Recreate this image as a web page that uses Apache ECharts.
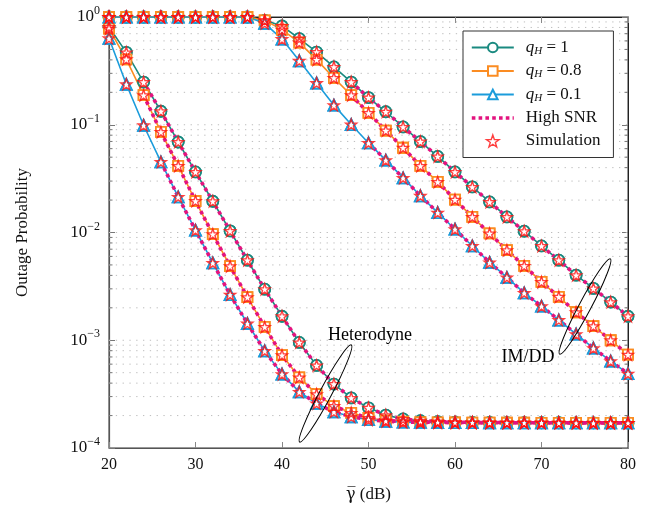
<!DOCTYPE html>
<html><head><meta charset="utf-8">
<script src="https://cdn.jsdelivr.net/npm/echarts@6/dist/echarts.min.js"></script>
<style>html,body{margin:0;padding:0;background:#fff}#c{width:649px;height:510px}</style>
</head><body><div id="c"></div>
<script>
// ---------------- data ----------------
const snrDb = [20,22,24,26,28,30,32,34,36,38,40,42,44,46,48,50,52,54,56,58,60,62,64,66,68,70,72,74,76,78,80];

// Heterodyne
const hetQ1  = [0.808,0.470,0.249,0.1334,0.0692,0.0365,0.0195,0.01035,0.00553,0.00298,0.00167,9.54e-4,5.84e-4,3.92e-4,2.92e-4,2.36e-4,2.02e-4,1.86e-4,1.79e-4,1.76e-4,1.74e-4,1.73e-4,1.725e-4,1.72e-4,1.718e-4,1.716e-4,1.715e-4,1.714e-4,1.713e-4,1.712e-4,1.71e-4];
const hetQ08 = [0.78,0.405,0.188,0.0858,0.0415,0.0196,0.00964,0.00487,0.00251,0.00133,7.28e-4,4.52e-4,3.16e-4,2.45e-4,2.12e-4,1.90e-4,1.80e-4,1.76e-4,1.74e-4,1.73e-4,1.725e-4,1.72e-4,1.718e-4,1.716e-4,1.715e-4,1.714e-4,1.713e-4,1.712e-4,1.711e-4,1.71e-4,1.71e-4];
const hetQ01 = [0.634,0.2375,0.0989,0.0452,0.0214,0.0105,0.00522,0.00265,0.00143,7.97e-4,4.85e-4,3.32e-4,2.59e-4,2.17e-4,1.95e-4,1.83e-4,1.77e-4,1.74e-4,1.73e-4,1.725e-4,1.72e-4,1.718e-4,1.716e-4,1.715e-4,1.714e-4,1.713e-4,1.712e-4,1.711e-4,1.71e-4,1.71e-4,1.71e-4];

// IM/DD
const imQ1  = [1,1,1,1,1,1,1,1,1,0.932,0.825,0.631,0.473,0.344,0.249,0.1788,0.132,0.0954,0.0698,0.0508,0.0365,0.0265,0.0192,0.01395,0.01028,0.0075,0.00553,0.00402,0.00303,0.00226,0.00167];
const imQ08 = [1,1,1,1,1,1,1,1,1,0.93,0.764,0.579,0.402,0.272,0.188,0.1287,0.0883,0.0612,0.0415,0.0295,0.0202,0.01395,0.0098,0.00685,0.0049,0.00348,0.00253,0.00182,0.00135,0.001,7.35e-4];
const imQ01 = [1,1,1,1,1,1,1,1,1,0.874,0.624,0.392,0.244,0.152,0.1004,0.0678,0.0469,0.0321,0.0219,0.0153,0.01073,0.0075,0.00527,0.00383,0.00275,0.00207,0.00154,0.00114,8.45e-4,6.4e-4,4.9e-4];

// index in snrDb where each High-SNR asymptote curve begins
const highSnrStartHet = {q1: 2, q08: 2, q01: 3};
const highSnrStartIm  = {q1: 14, q08: 14, q01: 15};

const minorVals = [2e-4,3e-4,4e-4,5e-4,6e-4,7e-4,8e-4,9e-4,2e-3,3e-3,4e-3,5e-3,6e-3,7e-3,8e-3,9e-3,2e-2,3e-2,4e-2,5e-2,6e-2,7e-2,8e-2,9e-2,0.2,0.3,0.4,0.5,0.6,0.7,0.8,0.9];
const majorGridVals = [1e-3, 1e-2, 1e-1];

// ---------------- styles ----------------
const TEAL = '#1a8a80', ORANGE = '#fb8c22', BLUE = '#1b9cdb', MAG = '#e3137f', RED = '#ff1010';
const SERIF = '"Liberation Serif", "DejaVu Serif", serif';
const STAR = 'path://M0,-10L2.35,-3.24L9.51,-3.09L3.8,1.24L5.88,8.09L0,4L-5.88,8.09L-3.8,1.24L-9.51,-3.09L-2.35,-3.24Z';
const DOTS = [3.6, 3.2];

const pts = arr => snrDb.map((x, i) => [x, arr[i]]);
const ptsFrom = (arr, s) => snrDb.slice(s).map((x, i) => [x, arr[s + i]]);

const curveDefs = [
  {name: 'q1',  color: TEAL,   symbol: 'circle',   size: 11, het: hetQ1,  im: imQ1,  key: 'q1'},
  {name: 'q08', color: ORANGE, symbol: 'rect',     size: 10, het: hetQ08, im: imQ08, key: 'q08'},
  {name: 'q01', color: BLUE,   symbol: 'triangle', size: 11, het: hetQ01, im: imQ01, key: 'q01'}
];

const series = [];
const gridData = minorVals.map(v => [20, v, 0]).concat(majorGridVals.map(v => [20, v, 1]));
series.push({
  type: 'custom', silent: true, z: 1, data: gridData, encode: {x: 0, y: 1},
  renderItem: function (params, api) {
    const v = api.value(1), major = api.value(2);
    const a = api.coord([20, v]), b = api.coord([80, v]);
    const children = [{
      type: 'line', shape: {x1: a[0], y1: a[1], x2: b[0], y2: b[1]},
      style: {stroke: '#bdbdbd', lineWidth: 1, lineDash: [1.3, 5.5]}
    }];
    if (!major) {
      children.push({type: 'line', shape: {x1: a[0], y1: a[1], x2: a[0] + 3.5, y2: a[1]}, style: {stroke: '#777', lineWidth: 1}});
      children.push({type: 'line', shape: {x1: b[0] - 3.5, y1: b[1], x2: b[0], y2: b[1]}, style: {stroke: '#777', lineWidth: 1}});
    }
    return {type: 'group', children: children};
  }
});

curveDefs.forEach(c => {
  [c.het, c.im].forEach(arr => {
    series.push({
      name: c.name, type: 'line', data: pts(arr), z: 2,
      symbol: c.symbol, symbolSize: c.size, showAllSymbol: true,
      lineStyle: {color: c.color, width: 1.6},
      itemStyle: {color: '#fff', borderColor: c.color, borderWidth: 1.8},
      emphasis: {disabled: true}, animation: false
    });
  });
});

curveDefs.forEach(c => {
  [[c.het, highSnrStartHet[c.key]], [c.im, highSnrStartIm[c.key]]].forEach(([arr, s]) => {
    series.push({
      name: 'High SNR', type: 'line', data: ptsFrom(arr, s), z: 3,
      symbol: 'none', showSymbol: false,
      lineStyle: {color: MAG, width: 3.6, type: DOTS, cap: 'butt'},
      itemStyle: {color: MAG},
      emphasis: {disabled: true}, animation: false
    });
  });
});

curveDefs.forEach(c => {
  [c.het, c.im].forEach(arr => {
    series.push({
      name: c.name, type: 'line', data: pts(arr), z: 4,
      symbol: c.symbol, symbolSize: c.size, showAllSymbol: true,
      lineStyle: {opacity: 0},
      itemStyle: {color: '#fff', borderColor: c.color, borderWidth: 1.8},
      emphasis: {disabled: true}, animation: false
    });
  });
});

let simData = [];
curveDefs.forEach(c => { simData = simData.concat(pts(c.het), pts(c.im)); });
series.push({
  name: 'Simulation', type: 'scatter', data: simData, z: 5,
  symbol: STAR, symbolSize: 11,
  itemStyle: {color: 'transparent', borderColor: RED, borderWidth: 1.4},
  emphasis: {disabled: true}, animation: false
});

const legendNames = {q1: '{i|q}{s|H}{t| = 1}', q08: '{i|q}{s|H}{t| = 0.8}', q01: '{i|q}{s|H}{t| = 0.1}',
  'High SNR': '{p|High SNR}', 'Simulation': '{p|Simulation}'};

const chart = echarts.init(document.getElementById('c'), null, {renderer: 'canvas'});
chart.setOption({
  animation: false,
  backgroundColor: '#fff',
  grid: {left: 109, right: 21, top: 17, bottom: 62, show: true, borderColor: '#333', borderWidth: 1, backgroundColor: 'transparent'},
  xAxis: [{
    type: 'value', min: 20, max: 80, interval: 10, position: 'bottom',
    name: '{g|γ\u0305} (dB)', nameLocation: 'middle', nameGap: 38,
    nameTextStyle: {fontFamily: SERIF, fontSize: 17, color: '#111',
      rich: {g: {fontFamily: '"DejaVu Serif", serif', fontSize: 16, color: '#111'}}},
    axisLine: {show: true, lineStyle: {color: '#555', width: 1.2}},
    axisTick: {inside: true, length: 6, lineStyle: {color: '#888'}},
    axisLabel: {fontFamily: SERIF, fontSize: 16, color: '#111', margin: 9},
    splitLine: {show: false}
  }, {
    type: 'value', min: 20, max: 80, interval: 10, position: 'top',
    axisLine: {show: true, lineStyle: {color: '#222'}},
    axisTick: {inside: true, length: 6, lineStyle: {color: '#888'}},
    axisLabel: {show: false}, splitLine: {show: false}
  }],
  yAxis: [{
    type: 'log', logBase: 10, min: 1e-4, max: 1,
    name: 'Outage Probability', nameLocation: 'middle', nameGap: 78,
    nameTextStyle: {fontFamily: SERIF, fontSize: 17, color: '#111'},
    axisLine: {show: true, lineStyle: {color: '#555', width: 1.2}},
    axisTick: {inside: true, length: 6, lineStyle: {color: '#777'}},
    axisLabel: {
      margin: 9, color: '#111',
      formatter: function (v) {
        const e = Math.round(Math.log10(v));
        return '{b|10}{e|' + (e === 0 ? '0' : '\u2212' + Math.abs(e)) + '}';
      },
      rich: {
        b: {fontFamily: SERIF, fontSize: 17, lineHeight: 24, color: '#111'},
        e: {fontFamily: SERIF, fontSize: 12, lineHeight: 12, verticalAlign: 'top', color: '#111'}
      }
    },
    splitLine: {show: false}
  }, {
    type: 'log', logBase: 10, min: 1e-4, max: 1, position: 'right',
    axisLine: {show: true, lineStyle: {color: '#222'}},
    axisTick: {inside: true, length: 6, lineStyle: {color: '#777'}},
    axisLabel: {show: false}, splitLine: {show: false}
  }],
  legend: {
    orient: 'vertical', left: 463, top: 31,
    data: ['q1', 'q08', 'q01',
      {name: 'High SNR', itemStyle: {opacity: 0}, lineStyle: {color: MAG, width: 3.6, type: DOTS, cap: 'butt'}},
      {name: 'Simulation', itemStyle: {color: 'transparent', borderColor: RED, borderWidth: 1.4}}],
    backgroundColor: '#fff', borderColor: '#333', borderWidth: 1,
    padding: [8, 13, 8, 7], itemGap: 6, itemWidth: 42, itemHeight: 12,
    selectedMode: false,
    formatter: n => legendNames[n],
    textStyle: {
      fontFamily: SERIF, fontSize: 16, color: '#111',
      rich: {
        i: {fontFamily: SERIF, fontSize: 17, fontStyle: 'italic', lineHeight: 18, color: '#111', padding: [0, 0, 0, 7]},
        s: {fontFamily: SERIF, fontSize: 11, fontStyle: 'italic', lineHeight: 10, verticalAlign: 'bottom', color: '#111'},
        t: {fontFamily: SERIF, fontSize: 17, lineHeight: 18, color: '#111'},
        p: {fontFamily: SERIF, fontSize: 17, lineHeight: 18, color: '#111', padding: [0, 0, 0, 7]}
      }
    }
  },
  graphic: [
    {type: 'ellipse', x: 325.5, y: 393.5, rotation: 62 * Math.PI / 180, shape: {cx: 0, cy: 0, rx: 55, ry: 6},
     style: {fill: 'none', stroke: '#000', lineWidth: 1}, z: 10},
    {type: 'ellipse', x: 585, y: 306.5, rotation: 62 * Math.PI / 180, shape: {cx: 0, cy: 0, rx: 54, ry: 6},
     style: {fill: 'none', stroke: '#000', lineWidth: 1}, z: 10},
    {type: 'text', x: 370, y: 335, style: {text: 'Heterodyne', font: '18px ' + SERIF, fill: '#000', align: 'center', verticalAlign: 'middle'}, z: 10},
    {type: 'text', x: 528, y: 357, style: {text: 'IM/DD', font: '18px ' + SERIF, fill: '#000', align: 'center', verticalAlign: 'middle'}, z: 10}
  ],
  series: series
});
</script>
</body></html>
